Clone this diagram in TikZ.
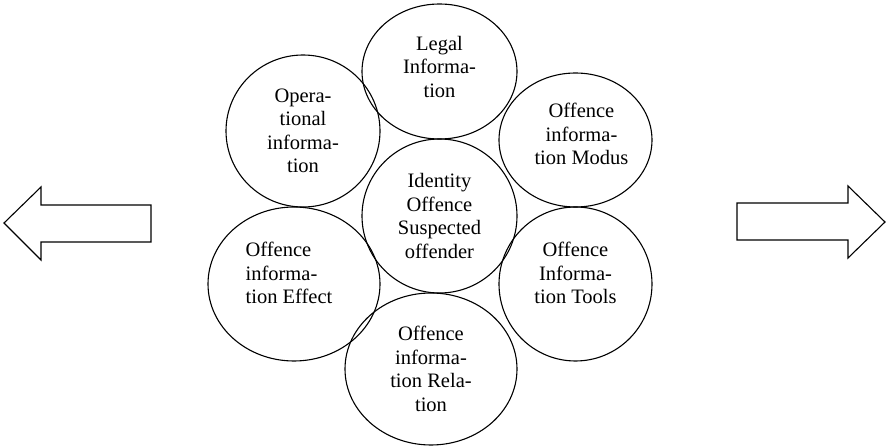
\documentclass[tikz,border=0pt]{standalone}
\usepackage{fontspec}
\setmainfont{Liberation Serif}
\usetikzlibrary{shapes.geometric}

\begin{document}
\begin{tikzpicture}[x=1pt, y=-1pt, line width=1.1pt,
        bubble/.style = {draw, ellipse, inner sep=0pt},
        every label/.style = {align=center, font=\fontsize{20.5}{23.5}\selectfont}]
        \useasboundingbox (0,0) rectangle (887,446);
        % centre and the six around it
        \node[bubble, minimum width=155pt, minimum height=154pt,
              label={center:Identity\\Offence\\Suspected\\offender}] (core) at (439.5,216) {};
        \node[bubble, minimum width=155pt, minimum height=135pt,
              label={[yshift=5pt]center:Legal\\Informa-\\tion}] (legal) at (439.5,71.5) {};
        \node[bubble, minimum width=154pt, minimum height=152pt,
              label={center:Opera-\\tional\\informa-\\tion}] (oper) at (303,131) {};
        \node[bubble, minimum width=153pt, minimum height=134pt,
              label={[xshift=6pt, yshift=6pt]center:Offence\\informa-\\tion Modus}] (modus) at (575.5,140) {};
        \node[bubble, minimum width=172pt, minimum height=154pt,
              label={[align=left, xshift=-5pt, yshift=11pt]center:Offence\\informa-\\tion Effect}] (effect) at (294,284) {};
        \node[bubble, minimum width=153pt, minimum height=154pt,
              label={[yshift=11pt]center:Offence\\Informa-\\tion Tools}] (tools) at (575.5,284) {};
        \node[bubble, minimum width=172pt, minimum height=152pt,
              label={center:Offence\\informa-\\tion Rela-\\tion}] (relation) at (431,369) {};
        % block arrows at the sides
        \draw (151,205) -- (41,205) -- (41,187) -- (4,223) -- (41,260) -- (41,242) -- (151,242) -- cycle;
        \draw (737,203) -- (848,203) -- (848,186) -- (885,222) -- (848,258) -- (848,240) -- (737,240) -- cycle;
\end{tikzpicture}
\end{document}
